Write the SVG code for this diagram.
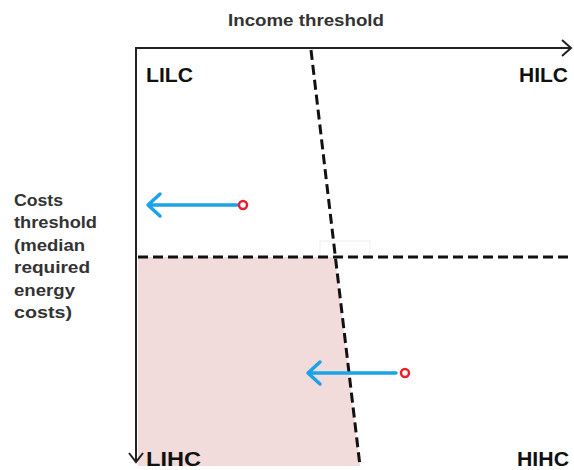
<svg xmlns="http://www.w3.org/2000/svg" width="574" height="470" viewBox="0 0 574 470">
<style>
.lbl{font-family:"Liberation Sans",Arial,sans-serif;font-weight:bold;fill:#111}
.big{font-size:20px}
.sm{font-size:16px;fill:#333}
.axis{stroke:#222;stroke-width:2;fill:none}
.dash{stroke:#111;stroke-width:3;stroke-dasharray:10,5;fill:none}
.blue{stroke:#1aa3e8;stroke-width:3.5;fill:none;stroke-linecap:round;stroke-linejoin:round}
.dot{stroke:#e8202a;stroke-width:2.5;fill:#fff}
</style>
<rect width="574" height="470" fill="#fff"/>
<g id="region-lihc"><polygon points="138,257 335,257 360,466 138,466" fill="#f2dcdb"/></g>
<rect x="320" y="241" width="50" height="16" fill="none" stroke="#eee" stroke-width="1"/>
<g id="connectors">
<path class="axis" d="M136,462 V48 H571"/>
<path class="axis" d="M562,40 L571,48 L562,56"/>
<path class="axis" d="M129,453 L136,462 L143,453"/>
<path class="dash" d="M311,50 L360,466"/>
<path class="dash" d="M138,257 H572"/>
</g>
<g id="arrow1"><path class="blue" d="M237,205 H148 M160,194 L148,205 L160,216"/><circle class="dot" cx="243" cy="205" r="4"/></g>
<g id="arrow2"><path class="blue" d="M396,373 H308 M320,362 L308,373 L320,384"/><circle class="dot" cx="405" cy="373" r="4"/></g>
<g id="labels">
<text class="lbl sm" x="228" y="26" textLength="156" lengthAdjust="spacingAndGlyphs">Income threshold</text>
<text class="lbl big" x="146" y="82" textLength="47" lengthAdjust="spacingAndGlyphs">LILC</text>
<text class="lbl big" x="519" y="82" textLength="49" lengthAdjust="spacingAndGlyphs">HILC</text>
<text class="lbl big" x="146" y="466" textLength="55" lengthAdjust="spacingAndGlyphs">LIHC</text>
<text class="lbl big" x="517" y="466" textLength="52" lengthAdjust="spacingAndGlyphs">HIHC</text>
<text class="lbl sm" x="14" y="206" textLength="49" lengthAdjust="spacingAndGlyphs">Costs</text>
<text class="lbl sm" x="14" y="228" textLength="83" lengthAdjust="spacingAndGlyphs">threshold</text>
<text class="lbl sm" x="14" y="251" textLength="71" lengthAdjust="spacingAndGlyphs">(median</text>
<text class="lbl sm" x="14" y="273" textLength="76" lengthAdjust="spacingAndGlyphs">required</text>
<text class="lbl sm" x="14" y="296" textLength="61" lengthAdjust="spacingAndGlyphs">energy</text>
<text class="lbl sm" x="14" y="318" textLength="58" lengthAdjust="spacingAndGlyphs">costs)</text>
</g>
</svg>
